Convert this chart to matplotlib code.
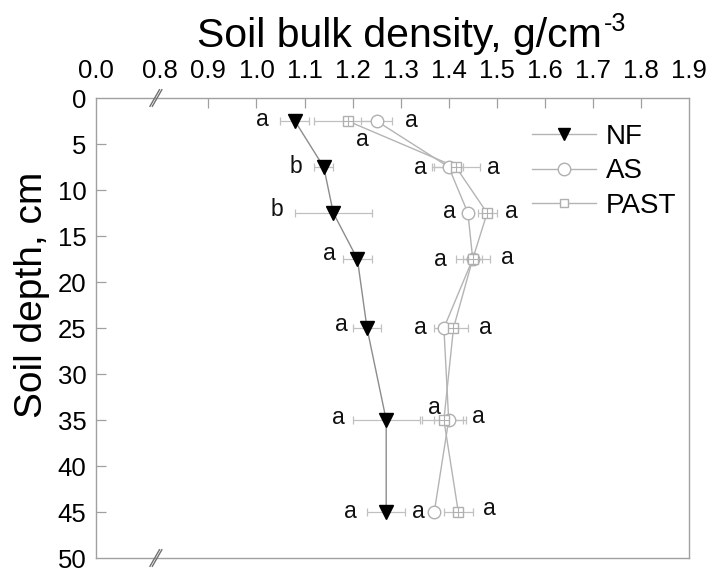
import numpy as np
import matplotlib
matplotlib.use("Agg")
import matplotlib.pyplot as plt
from matplotlib.lines import Line2D

plt.rcParams['font.family'] = ['Liberation Sans', 'DejaVu Sans']

# ---------------- data ----------------
depth = [2.5, 7.5, 12.5, 17.5, 25, 35, 45]
nf = [1.08, 1.14, 1.16, 1.21, 1.23, 1.27, 1.27]
nf_err = [0.03, 0.02, 0.08, 0.03, 0.03, 0.07, 0.04]
as_ = [1.25, 1.40, 1.44, 1.45, 1.39, 1.40, 1.37]
as_err = [0.033, 0.03, 0.01, 0.02, 0.02, 0.03, 0.005]
past = [1.19, 1.415, 1.48, 1.45, 1.41, 1.39, 1.42]
past_err = [0.07, 0.05, 0.02, 0.035, 0.03, 0.045, 0.03]

x_ticks = [0.0, 0.8, 0.9, 1.0, 1.1, 1.2, 1.3, 1.4, 1.5, 1.6, 1.7, 1.8, 1.9]
y_ticks = [0, 5, 10, 15, 20, 25, 30, 35, 40, 45, 50]

# significance letters (letter, x in g/cm3, depth)
nf_letters = ['a', 'b', 'b', 'a', 'a', 'a', 'a']
nf_letter_x = [1.013, 1.083, 1.043, 1.152, 1.176, 1.171, 1.196]
nf_letter_y = [2.3, 7.4, 12.1, 16.9, 24.6, 34.7, 44.9]
as_letters = ['a', 'a', 'a', 'a', 'a', 'a', 'a']
as_letter_x = [1.322, 1.341, 1.402, 1.382, 1.341, 1.370, 1.337]
as_letter_y = [2.4, 7.6, 12.3, 17.5, 24.9, 33.6, 44.9]
past_letters = ['a', 'a', 'a', 'a', 'a', 'a', 'a']
past_letter_x = [1.220, 1.494, 1.531, 1.522, 1.477, 1.462, 1.484]
past_letter_y = [4.5, 7.6, 12.3, 17.3, 24.9, 34.6, 44.6]

# ---------------- broken x scale ----------------
BRK = 0.8
K = 0.1673


def fwd(x):
    x = np.asarray(x, dtype=float)
    return np.where(x >= BRK, x, BRK - (BRK - x) * K)


def inv(u):
    u = np.asarray(u, dtype=float)
    return np.where(u >= BRK, u, BRK - (BRK - u) / K)


fig = plt.figure(figsize=(7.13, 5.69), dpi=100)
ax = fig.add_axes([96 / 713, 1 - 558 / 569, (689 - 96) / 713, (558 - 98) / 569])
ax.set_xscale('function', functions=(fwd, inv))
ax.set_xlim(0, 1.9)
ax.set_ylim(50, 0)

line_col = '#8c8c8c'
light = '#b4b4b4'
err_col = '#c0c0c0'

# error bars
for vals, errs in [(nf, nf_err), (as_, as_err), (past, past_err)]:
    ax.errorbar(vals, depth, xerr=errs, fmt='none', ecolor=err_col, elinewidth=0.9,
                capsize=3, capthick=0.9, zorder=2)

# lines + markers
ax.plot(nf, depth, color=line_col, lw=1.0, zorder=3)
ax.plot(as_, depth, color=light, lw=1.0, zorder=3)
ax.plot(past, depth, color=light, lw=1.0, zorder=3)
ax.plot(nf, depth, linestyle='none', marker='v', ms=9.5, color='black', zorder=5)
ax.plot(as_, depth, linestyle='none', marker='o', ms=9, mfc='white',
        mec='#b0b0b0', mew=1.0, zorder=4)
ax.plot(past, depth, linestyle='none', marker='s', ms=7, mfc='white',
        mec='#b0b0b0', mew=1.0, zorder=4)
ax.plot(past, depth, linestyle='none', marker='+', ms=7, mec='#b0b0b0',
        mew=0.8, zorder=4)

# letters
for letters, xs, ys in [(nf_letters, nf_letter_x, nf_letter_y),
                        (as_letters, as_letter_x, as_letter_y),
                        (past_letters, past_letter_x, past_letter_y)]:
    for t, x, y in zip(letters, xs, ys):
        ax.text(x, y, t, ha='center', va='center', fontsize=16.5, color='#111111')

# axes styling
spine_col = '#a0a0a0'
for s in ax.spines.values():
    s.set_color(spine_col)
    s.set_linewidth(1.0)

ax.xaxis.tick_top()
ax.set_xticks(x_ticks)
ax.set_xticklabels([f'{v:.1f}' for v in x_ticks])
ax.set_yticks(y_ticks)
ax.set_yticklabels([str(v) for v in y_ticks])
ax.tick_params(axis='x', which='both', direction='in', length=7, width=0.9,
               color=spine_col, labelsize=18.5, pad=11, top=True, bottom=False)
ax.tick_params(axis='y', which='both', direction='in', length=7, width=0.9,
               color=spine_col, labelsize=18.5, pad=7, left=True, right=False)
ax.minorticks_off()
for i, tk in enumerate(ax.xaxis.get_major_ticks()):
    if x_ticks[i] in (0.0, 0.8, 1.9):
        tk.tick2line.set_visible(False)
        tk.tick1line.set_visible(False)
for i, tk in enumerate(ax.yaxis.get_major_ticks()):
    if y_ticks[i] in (0, 50):
        tk.tick1line.set_visible(False)

# break marks "//"
for yb in (0.0, 1.0):
    for xc in (0.73, 0.76):
        u = float(fwd(xc))
        xa = (u - float(fwd(0.0))) / (float(fwd(1.9)) - float(fwd(0.0)))
        ax.plot([xa - 0.008, xa + 0.008], [yb - 0.018, yb + 0.018],
                transform=ax.transAxes, color='#707070', lw=1.0, clip_on=False,
                zorder=6)

# titles
title = fig.text(197 / 713, 1 - 36 / 569, 'Soil bulk density, g/cm',
                 ha='left', va='center', fontsize=29.5)
fig.canvas.draw()
bb = title.get_window_extent(renderer=fig.canvas.get_renderer())
fig.text((bb.x1 + 2) / (fig.dpi * fig.get_figwidth()), 1 - 24 / 569, '-3',
         ha='left', va='center', fontsize=18)
fig.text(32 / 713, 1 - 295 / 569, 'Soil depth, cm', ha='center', va='center',
         rotation=90, fontsize=28)

# legend
handles = [
    Line2D([], [], color=light, lw=1.0, marker='v', ms=9, mfc='black', mec='black'),
    Line2D([], [], color=light, lw=1.0, marker='o', ms=9, mfc='white', mec='#b0b0b0'),
    Line2D([], [], color=light, lw=1.0, marker='s', ms=6, mfc='white', mec='#b0b0b0'),
]
leg = fig.legend(handles, ['NF', 'AS', 'PAST'], loc='upper left',
                 bbox_to_anchor=(532 / 713, 1 - 124 / 569), frameon=False,
                 fontsize=20, handlelength=2.3, handletextpad=0.36,
                 labelspacing=0.3, borderpad=0, borderaxespad=0)

fig.savefig('out.png', dpi=100)
